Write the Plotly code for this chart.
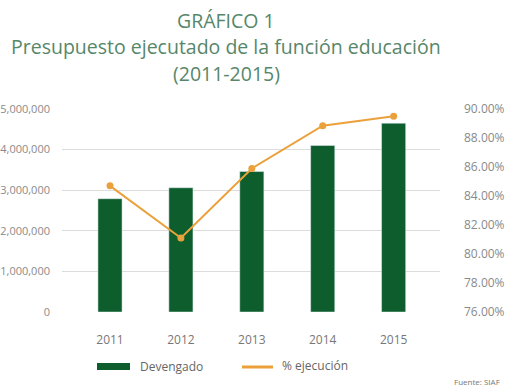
import plotly.graph_objects as go

years = ["2011", "2012", "2013", "2014", "2015"]
devengado = [2790000, 3060000, 3460000, 4100000, 4650000]
ejecucion = [84.7, 81.1, 85.9, 88.85, 89.5]
left_ticks = [0, 1000000, 2000000, 3000000, 4000000, 5000000]
right_ticks = [76, 78, 80, 82, 84, 86, 88, 90]

GREEN = "#0d5e2c"
ORANGE = "#eba13b"
TITLE_C = "#56876a"
TICK_C = "#8a8a8a"
FONT = "Open Sans"

fig = go.Figure()
fig.add_trace(go.Bar(x=years, y=devengado, name="Devengado", marker_color=GREEN,
                     width=0.34, showlegend=False, yaxis="y"))
fig.add_trace(go.Scatter(x=years, y=ejecucion, name="% ejecución", mode="lines+markers",
                         line=dict(color=ORANGE, width=2), marker=dict(color=ORANGE, size=7),
                         showlegend=False, yaxis="y2"))

fig.update_layout(
    width=514, height=387,
    margin=dict(l=62, r=74, t=109, b=75),
    paper_bgcolor="white", plot_bgcolor="white",
    font=dict(family=FONT, color=TICK_C, size=11),
    xaxis=dict(type="category", range=[-0.677, 4.654], showgrid=False, showline=False,
               ticks="", ticklabelstandoff=19, tickfont=dict(size=12, color="#777777")),
    yaxis=dict(range=[0, 5000000], tickvals=left_ticks,
               ticktext=[f"{v:,}" for v in left_ticks], showgrid=True,
               gridcolor="#dcdcdc", gridwidth=1, zeroline=False, showline=False,
               ticks="", ticklabelstandoff=11, automargin=False,
               tickfont=dict(size=11, color=TICK_C)),
    yaxis2=dict(range=[76, 90], tickvals=right_ticks,
                ticktext=[f"{v:.2f}%" for v in right_ticks], overlaying="y", side="right",
                showgrid=False, zeroline=False, showline=False, ticks="",
                ticklabelstandoff=23, automargin=False,
                tickfont=dict(size=12, color=TICK_C)),
    bargap=0.5,
)

titles = [("GRÁFICO 1", 20), ("Presupuesto ejecutado de la función educación", 46),
          ("(2011-2015)", 73)]
for txt, ypx in titles:
    fig.add_annotation(text=txt, xref="paper", yref="paper",
                       x=(226 - 62) / 378, y=1 + (109 - ypx) / 203,
                       xanchor="center", yanchor="middle", showarrow=False,
                       font=dict(family=FONT, size=19.5, color=TITLE_C))

# legend drawn manually (paper coords)
def px_x(x):
    return (x - 62) / 378

def px_y(y):
    return (312 - y) / 203

fig.add_shape(type="rect", xref="paper", yref="paper",
              x0=px_x(97), x1=px_x(130), y0=px_y(370), y1=px_y(363),
              fillcolor=GREEN, line=dict(width=0))
fig.add_annotation(text="Devengado", xref="paper", yref="paper", x=px_x(138), y=px_y(366),
                   xanchor="left", yanchor="middle", showarrow=False,
                   font=dict(size=12, color="#666666"))
fig.add_shape(type="line", xref="paper", yref="paper",
              x0=px_x(242), x1=px_x(273), y0=px_y(367), y1=px_y(367),
              line=dict(color=ORANGE, width=3))
fig.add_annotation(text="% ejecución", xref="paper", yref="paper", x=px_x(280), y=px_y(365),
                   xanchor="left", yanchor="middle", showarrow=False,
                   font=dict(size=12, color="#666666"))
fig.add_annotation(text="Fuente: SIAF", xref="paper", yref="paper", x=px_x(452), y=px_y(381),
                   xanchor="left", yanchor="middle", showarrow=False,
                   font=dict(size=8, color="#777777"))

fig.write_html("out.html")
